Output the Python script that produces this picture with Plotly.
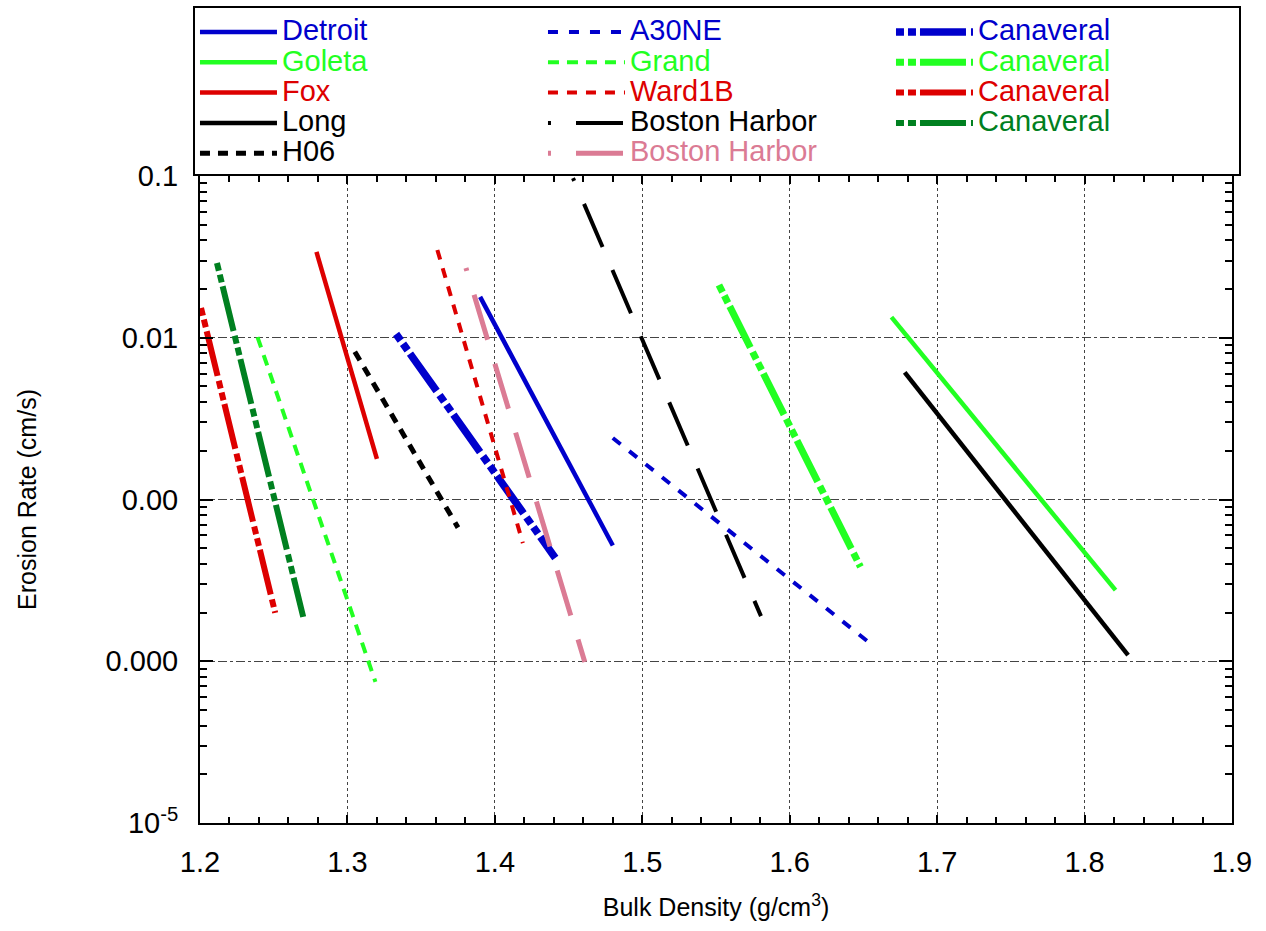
import plotly.graph_objects as go

# ---- data ----
detroit_x = [1.390, 1.480]
detroit_y = [0.0179, 5.2e-4]
goleta_x = [1.669, 1.821]
goleta_y = [0.0134, 2.75e-4]
fox_x = [1.279, 1.320]
fox_y = [0.0339, 1.78e-3]
long_x = [1.678, 1.8295]
long_y = [6.1e-3, 1.09e-4]
h06_x = [1.305, 1.375]
h06_y = [8.2e-3, 6.7e-4]
a30ne_x = [1.480, 1.656]
a30ne_y = [2.4e-3, 1.26e-4]
grand_x = [1.239, 1.319]
grand_y = [0.0101, 7.45e-5]
ward1b_x = [1.361, 1.419]
ward1b_y = [0.0349, 5.37e-4]
boston_black_x = [1.453, 1.5805]
boston_black_y = [0.097, 1.9e-4]
boston_pink_x = [1.3804, 1.461]
boston_pink_y = [0.027, 9.9e-5]
canav_blue_x = [1.333, 1.441]
canav_blue_y = [0.01055, 4.35e-4]
canav_green_x = [1.552, 1.648]
canav_green_y = [0.0212, 3.83e-4]
canav_red_x = [1.2007, 1.251]
canav_red_y = [0.0153, 1.99e-4]
canav_dkgreen_x = [1.2115, 1.270]
canav_dkgreen_y = [0.029, 1.88e-4]

x_ticks = [1.2, 1.3, 1.4, 1.5, 1.6, 1.7, 1.8, 1.9]
y_ticks = [1e-5, 1e-4, 1e-3, 1e-2, 1e-1]
y_ticktext = ["10<sup>-5</sup>", "0.000", "0.00", "0.01", "0.1"]

BLUE = "#0000CC"
LIME = "#22FF22"
RED = "#DD0000"
BLACK = "#000000"
DKGREEN = "#008020"
PINK = "#DB7B94"
CANAV_DASH = "8px,4px,8px,4px,46px,5px"
HARBOR_DASH = "3px,25px,44px,0px"

series = [
    # name, x, y, color, width, dash, legend rank (row-major grid)
    ("Detroit", detroit_x, detroit_y, BLUE, 4.5, "solid", 1),
    ("A30NE", a30ne_x, a30ne_y, BLUE, 4, "10px,11px", 2),
    ("Canaveral", canav_blue_x, canav_blue_y, BLUE, 7.5, CANAV_DASH, 3),
    ("Goleta", goleta_x, goleta_y, LIME, 4.5, "solid", 4),
    ("Grand", grand_x, grand_y, LIME, 4, "11px,8px", 5),
    ("Canaveral", canav_green_x, canav_green_y, LIME, 7, CANAV_DASH, 6),
    ("Fox", fox_x, fox_y, RED, 4.5, "solid", 7),
    ("Ward1B", ward1b_x, ward1b_y, RED, 4, "10px,9px", 8),
    ("Canaveral", canav_red_x, canav_red_y, RED, 6, CANAV_DASH, 9),
    ("Long", long_x, long_y, BLACK, 4.5, "solid", 10),
    ("Boston Harbor", boston_black_x, boston_black_y, BLACK, 4, HARBOR_DASH, 11),
    ("Canaveral", canav_dkgreen_x, canav_dkgreen_y, DKGREEN, 6, CANAV_DASH, 12),
    ("H06", h06_x, h06_y, BLACK, 5, "10px,8px", 13),
    ("Boston Harbor", boston_pink_x, boston_pink_y, PINK, 5, HARBOR_DASH, 14),
]

FONT = "Arial, Liberation Sans, sans-serif"

fig = go.Figure()
for name, xs, ys, color, width, dash, rank in series:
    fig.add_trace(go.Scatter(
        x=xs, y=ys, mode="lines",
        name=f"<span style='color:{color};font-size:29px'>{name}</span>",
        line=dict(color=color, width=width, dash=dash),
        legendrank=rank,
    ))

fig.update_layout(
    width=1266, height=931,
    margin=dict(l=200, r=34, t=176, b=108, autoexpand=False),
    paper_bgcolor="white", plot_bgcolor="white",
    font=dict(family=FONT, color="black"),
    showlegend=True,
    legend=dict(
        orientation="h",
        x=-0.0068, xanchor="left", y=1.2628, yanchor="top",
        entrywidth=256, entrywidthmode="pixels", itemwidth=77,
        font=dict(size=21, family=FONT),
        bgcolor="white", bordercolor="black", borderwidth=2,
        title=dict(text=" ", side="top", font=dict(size=3)),
        traceorder="normal",
    ),
    xaxis=dict(
        range=[1.2, 1.9], automargin=False,
        tickvals=x_ticks, tickformat=".1f",
        tickfont=dict(size=29, family=FONT),
        ticks="inside", ticklen=8, tickwidth=1.5, tickcolor="black",
        ticklabelstandoff=12,
        minor=dict(dtick=0.02, ticks="inside", ticklen=6, tickwidth=1.5, tickcolor="black", showgrid=False),
        showline=True, linecolor="black", linewidth=2, mirror="ticks",
        showgrid=True, gridcolor="#444444", gridwidth=1, griddash="dot",
        zeroline=False,
        title=dict(text="Bulk Density (g/cm<sup>3</sup>)", font=dict(size=25, family=FONT), standoff=22),
    ),
    yaxis=dict(
        type="log", range=[-5, -1], automargin=False,
        tickmode="array", tickvals=y_ticks, ticktext=y_ticktext,
        tickfont=dict(size=29, family=FONT),
        ticks="inside", ticklen=13, tickwidth=1.5, tickcolor="black",
        ticklabelstandoff=14,
        minor=dict(tickmode="array",
                   tickvals=[m * 10 ** e for e in range(-5, -1) for m in range(2, 10)],
                   ticks="inside", ticklen=7, tickwidth=1.5, tickcolor="black", showgrid=False),
        showline=True, linecolor="black", linewidth=2, mirror="ticks",
        showgrid=True, gridcolor="#444444", gridwidth=1, griddash="dashdot",
        zeroline=False,
        title=dict(text="Erosion Rate (cm/s)", font=dict(size=25, family=FONT), standoff=62),
    ),
)

fig.write_html("out.html", config={"displayModeBar": False},
               post_script="document.body.style.margin='0';")
